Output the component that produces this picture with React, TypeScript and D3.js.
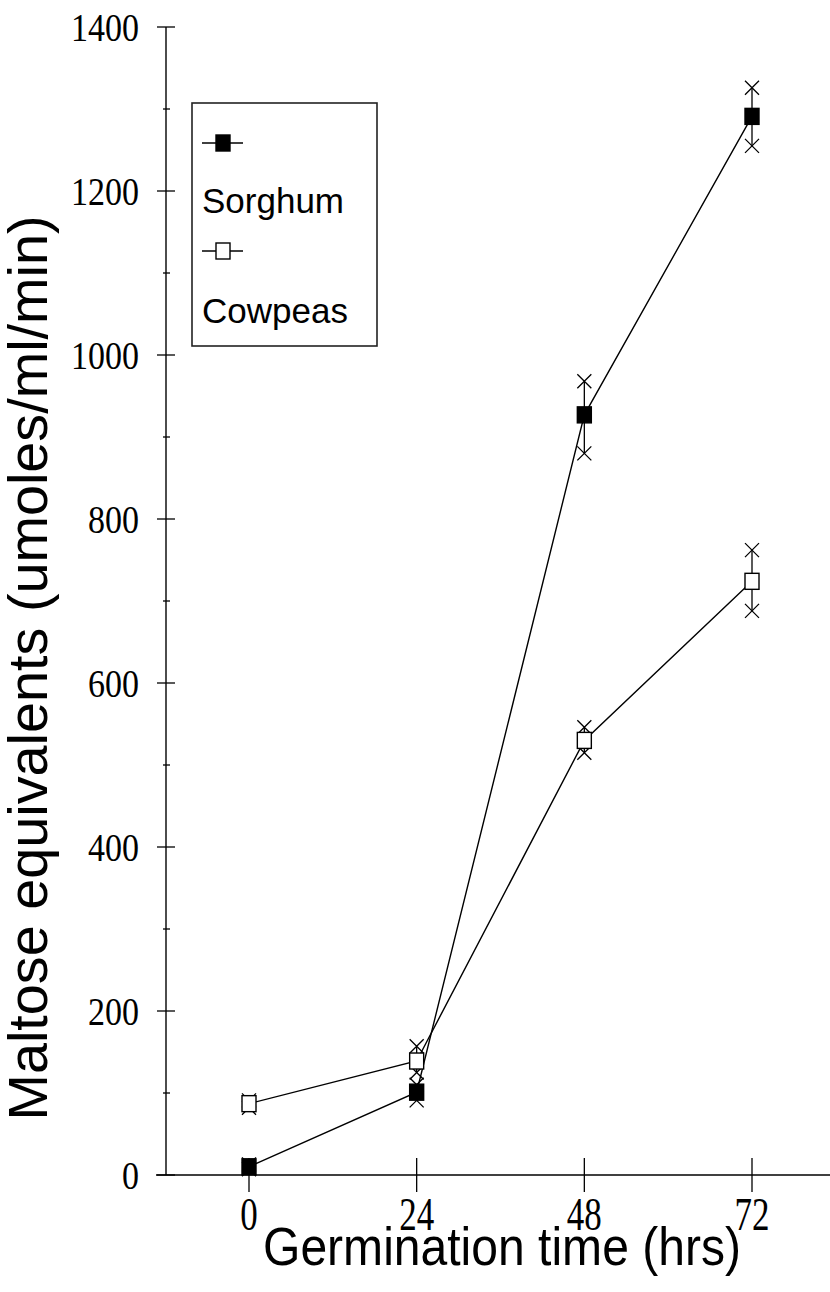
import React from "react";
import * as d3 from "d3";

const hours = [0, 24, 48, 72];
const sorghumMean = [10, 101, 927, 1291];
const sorghumReps = [[7, 13], [91, 110], [880, 968], [1255, 1326]];
const cowpeasMean = [87, 139, 530, 724];
const cowpeasReps = [[82, 91], [125, 157], [515, 546], [688, 762]];
const yMajorTicks = [0, 200, 400, 600, 800, 1000, 1200, 1400];
const yMinorTicks = [100, 300, 500, 700, 900, 1100, 1300];
const xTicks = [0, 24, 48, 72];

const W = 830;
const H = 1292;

export default function App() {
  const x = d3.scaleLinear().domain([0, 72]).range([249, 752]);
  const y = d3.scaleLinear().domain([0, 1400]).range([1175, 27]);
  const axisX = 166;
  const axisY = y(0);
  const line = d3
    .line<number>()
    .x((_, i) => x(hours[i]))
    .y((d) => y(d));

  const sq = (cx: number, cy: number, filled: boolean, key: string) => (
    <rect
      key={key}
      x={cx - 7}
      y={cy - 8}
      width={14}
      height={16}
      fill={filled ? "#000" : "#fff"}
      stroke="#000"
      strokeWidth={1.4}
    />
  );
  const cross = (cx: number, cy: number, key: string) => (
    <path
      key={key}
      d={`M${cx - 7},${cy - 7}L${cx + 7},${cy + 7}M${cx + 7},${cy - 7}L${cx - 7},${cy + 7}`}
      stroke="#000"
      strokeWidth={1.3}
      fill="none"
    />
  );

  const series = [
    { mean: sorghumMean, reps: sorghumReps, filled: true, name: "s" },
    { mean: cowpeasMean, reps: cowpeasReps, filled: false, name: "c" },
  ];

  const serif = "Liberation Serif, Times New Roman, serif";
  const sans = "Liberation Sans, Arial, sans-serif";

  return (
    <svg
      width={W}
      height={H}
      style={{ position: "absolute", left: 0, top: 0, background: "#fff" }}
    >
      <rect x={0} y={0} width={W} height={H} fill="#fff" />
      {/* axes */}
      <line x1={axisX} y1={y(1400)} x2={axisX} y2={axisY} stroke="#000" strokeWidth={1.4} />
      <line x1={axisX - 10} y1={axisY} x2={W} y2={axisY} stroke="#000" strokeWidth={1.4} />
      {yMajorTicks.map((t) => (
        <g key={"ym" + t}>
          <line x1={axisX - 9} x2={axisX + 9} y1={y(t)} y2={y(t)} stroke="#000" strokeWidth={1.3} />
          <text
            transform={`translate(139,${y(t) + 13.5}) scale(1,1.2)`}
            textAnchor="end"
            fontFamily={serif}
            fontSize={34}
          >
            {t}
          </text>
        </g>
      ))}
      {yMinorTicks.map((t) => (
        <line key={"yn" + t} x1={axisX - 3} x2={axisX + 4} y1={y(t)} y2={y(t)} stroke="#000" strokeWidth={1.3} />
      ))}
      {xTicks.map((t) => (
        <g key={"xt" + t}>
          <line x1={x(t)} x2={x(t)} y1={axisY - 17} y2={axisY + 17} stroke="#000" strokeWidth={1.3} />
          <text
            transform={`translate(${x(t)},1230) scale(1,1.3)`}
            textAnchor="middle"
            fontFamily={serif}
            fontSize={35}
          >
            {t}
          </text>
        </g>
      ))}
      {/* axis titles */}
      <text
        x={502}
        y={1265}
        textAnchor="middle"
        fontFamily={sans}
        fontSize={54}
        textLength={478}
        lengthAdjust="spacingAndGlyphs"
      >
        Germination time (hrs)
      </text>
      <text
        transform={`translate(47,668) rotate(-90)`}
        textAnchor="middle"
        fontFamily={sans}
        fontSize={55}
        textLength={905}
        lengthAdjust="spacingAndGlyphs"
      >
        Maltose equivalents (umoles/ml/min)
      </text>
      {/* series */}
      {series.map((s) => (
        <g key={s.name}>
          <path d={line(s.mean) || ""} fill="none" stroke="#000" strokeWidth={1.4} />
          {s.reps.map((r, i) => (
            <g key={s.name + "e" + i}>
              <line x1={x(hours[i])} x2={x(hours[i])} y1={y(r[0])} y2={y(r[1])} stroke="#000" strokeWidth={1.3} />
              {cross(x(hours[i]), y(r[0]), s.name + "a" + i)}
              {cross(x(hours[i]), y(r[1]), s.name + "b" + i)}
            </g>
          ))}
          {s.mean.map((m, i) => sq(x(hours[i]), y(m), s.filled, s.name + "m" + i))}
        </g>
      ))}
      {/* legend */}
      <rect x={192} y={103} width={185} height={243} fill="#fff" stroke="#222" strokeWidth={1.6} />
      <line x1={202} x2={243} y1={143} y2={143} stroke="#000" strokeWidth={1.3} />
      {sq(223, 143, true, "l1")}
      <text x={202} y={213} fontFamily={sans} fontSize={35}>
        Sorghum
      </text>
      <line x1={202} x2={243} y1={251} y2={251} stroke="#000" strokeWidth={1.3} />
      {sq(223, 251, false, "l2")}
      <text x={202} y={323} fontFamily={sans} fontSize={35}>
        Cowpeas
      </text>
    </svg>
  );
}
